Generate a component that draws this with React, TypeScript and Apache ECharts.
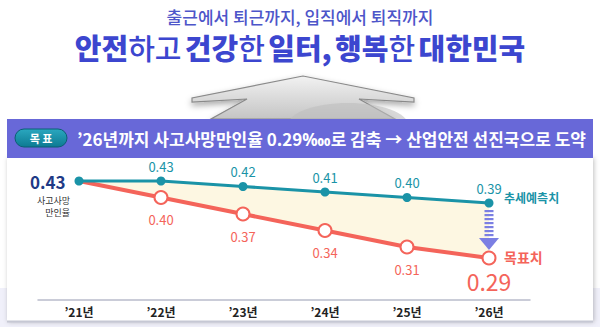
import React, { useEffect, useRef } from "react";
import * as echarts from "echarts";

const years = ["’21년", "’22년", "’23년", "’24년", "’25년", "’26년"];
const trend = [0.43, 0.43, 0.42, 0.41, 0.4, 0.39];
const target = [0.43, 0.4, 0.37, 0.34, 0.31, 0.29];
const trendLabels = ["0.43", "0.43", "0.42", "0.41", "0.40", "0.39"];
const targetLabels = ["0.43", "0.40", "0.37", "0.34", "0.31", "0.29"];

const FONT = "'Noto Sans CJK KR', 'Noto Sans', sans-serif";
const TEAL = "#1a93a7";
const RED = "#f4645a";

export default function App() {
  const ref = useRef<HTMLDivElement>(null);
  useEffect(() => {
    if (!ref.current) return;
    const chart = echarts.init(ref.current, undefined, { renderer: "svg" });
    const diff = trend.map((t, i) => +(t - target[i]).toFixed(4));
    const last = years.length - 1;
    const option: any = {
      animation: false,
      backgroundColor: "#ffffff",
      textStyle: { fontFamily: FONT },
      grid: { left: 38, right: 70, top: 160, bottom: 27 },
      xAxis: {
        type: "category",
        data: years,
        boundaryGap: true,
        axisLine: { lineStyle: { color: "#b9bccb", width: 1.5 } },
        axisTick: { show: false },
        axisLabel: { color: "#222", fontSize: 12, fontWeight: "bold", margin: 5, fontFamily: FONT },
        z: 5,
      },
      yAxis: { type: "value", min: 0.2136, max: 0.4682, show: false, splitLine: { show: false } },
      series: [
        {
          type: "line",
          data: target,
          stack: "fill",
          symbol: "none",
          lineStyle: { opacity: 0 },
          silent: true,
          z: 1,
        },
        {
          type: "line",
          data: diff,
          stack: "fill",
          symbol: "none",
          lineStyle: { opacity: 0 },
          areaStyle: { color: "#fdf7e2", opacity: 1 },
          silent: true,
          z: 1,
        },
        {
          type: "line",
          data: target.map((v, i) =>
            i === 0
              ? { value: v, symbol: "none", label: { show: false } }
              : i === last
              ? { value: v, label: { fontSize: 23, distance: 4 } }
              : v
          ),
          symbol: "emptyCircle",
          symbolSize: 13,
          lineStyle: { color: RED, width: 4 },
          itemStyle: { color: RED, borderColor: RED, borderWidth: 2.5 },
          label: {
            show: true,
            position: "bottom",
            distance: 8,
            color: RED,
            fontSize: 13,
            fontFamily: FONT,
            formatter: (p: any) => targetLabels[p.dataIndex],
          },
          z: 3,
        },
        {
          type: "line",
          data: trend.map((v, i) =>
            i === 0
              ? {
                  value: v,
                  label: {
                    show: true,
                    position: "left",
                    distance: 9,
                    color: "#1f3a86",
                    fontSize: 17,
                    fontWeight: "bold",
                    fontFamily: FONT,
                  },
                }
              : v
          ),
          symbol: "circle",
          symbolSize: 9,
          lineStyle: { color: TEAL, width: 3 },
          itemStyle: { color: TEAL },
          label: {
            show: true,
            position: "top",
            distance: 4,
            color: TEAL,
            fontSize: 13,
            fontFamily: FONT,
            formatter: (p: any) => trendLabels[p.dataIndex],
          },
          z: 4,
        },
      ],
    };
    chart.setOption(option);

    const p0 = chart.convertToPixel({ gridIndex: 0 }, [0, trend[0]]) as number[];
    const pT = chart.convertToPixel({ gridIndex: 0 }, [last, trend[last]]) as number[];
    const pR = chart.convertToPixel({ gridIndex: 0 }, [last, target[last]]) as number[];

    const stripes: any[] = [];
    const sTop = pT[1] + 7;
    const sBot = pR[1] - 20;
    const nStripes = 7;
    const step = (sBot - sTop) / nStripes;
    for (let i = 0; i < nStripes; i++) {
      stripes.push({
        type: "rect",
        z: 20,
        shape: { x: pT[0] - 4.5, y: sTop + i * step, width: 9, height: step * 0.55 },
        style: { fill: "#7b7fe3" },
      });
    }

    const ax = 303;
    const arrowShape = [
      [ax, 76],
      [ax - 111, 98],
      [ax - 111, 102],
      [ax - 56, 99],
      [ax - 92, 119],
      [ax + 92, 119],
      [ax + 56, 99],
      [ax + 111, 102],
      [ax + 111, 98],
    ];

    chart.setOption({
      graphic: [
        { type: "rect", z: -10, shape: { x: 0, y: 288, width: 600, height: 39 }, style: { fill: "#f0f0fa" } },
        {
          type: "polygon",
          z: -9,
          shape: { points: arrowShape },
          style: {
            fill: new echarts.graphic.LinearGradient(0, 0, 0, 1, [
              { offset: 0, color: "#f2f2f2" },
              { offset: 1, color: "#c4c4c4" },
            ]),
            stroke: "#8a8a8a",
            lineWidth: 1.2,
            shadowBlur: 6,
            shadowColor: "rgba(0,0,0,0.35)",
            shadowOffsetY: 3,
          },
        },
        {
          type: "ellipse",
          z: -8,
          shape: { cx: ax + 45, cy: 125, rx: 60, ry: 22 },
          style: { fill: "rgba(190,190,190,0.6)" },
        },
        {
          type: "rect",
          z: -7,
          shape: { x: 7, y: 158, width: 586, height: 164 },
          style: { fill: "#ffffff", shadowBlur: 5, shadowColor: "rgba(0,0,0,0.25)", shadowOffsetX: 1 },
        },
        { type: "rect", z: -6, shape: { x: 7, y: 320.5, width: 586, height: 2 }, style: { fill: "#c6c8d4" } },
        { type: "rect", z: -6, shape: { x: 7, y: 119, width: 586, height: 39 }, style: { fill: "#6868d8" } },
        {
          type: "rect",
          z: -5,
          shape: { x: 15, y: 129, width: 52, height: 18, r: 9 },
          style: {
            fill: new echarts.graphic.LinearGradient(0, 0, 0, 1, [
              { offset: 0, color: "#2aa7bf" },
              { offset: 1, color: "#0d7a92" },
            ]),
            stroke: "#0b5f74",
            lineWidth: 1,
          },
        },
        {
          type: "text",
          z: -4,
          style: {
            text: "목 표",
            x: 41,
            y: 138,
            align: "center",
            verticalAlign: "middle",
            fill: "#ffffff",
            font: `bold 11px ${FONT}`,
          },
        },
        {
          type: "text",
          z: -4,
          style: {
            text: "’26년까지 사고사망만인율 0.29‱로 감축 → 산업안전 선진국으로 도약",
            x: 77,
            y: 138,
            align: "left",
            verticalAlign: "middle",
            fill: "#ffffff",
            font: `bold 17px ${FONT}`,
          },
        },
        {
          type: "text",
          z: 10,
          style: {
            text: "출근에서 퇴근까지, 입직에서 퇴직까지",
            x: 300,
            y: 16,
            align: "center",
            verticalAlign: "middle",
            fill: "#4d55c9",
            font: `500 17px ${FONT}`,
          },
        },
        {
          type: "text",
          z: 10,
          style: {
            text: "{b|안전}{m|하고} {b|건강}{m|한} {b|일터,} {b|행복}{m|한} {b|대한민국}",
            x: 300,
            y: 47,
            align: "center",
            verticalAlign: "middle",
            rich: {
              b: { fill: "#3c46cf", font: `900 29px ${FONT}` },
              m: { fill: "#3c46cf", font: `500 29px ${FONT}` },
            },
          },
        },
        {
          type: "text",
          z: 20,
          style: {
            text: "사고사망\n만인율",
            x: p0[0] - 9,
            y: p0[1] + 13,
            align: "right",
            verticalAlign: "top",
            fill: "#333",
            lineHeight: 12,
            font: `9px ${FONT}`,
          },
        },
        {
          type: "text",
          z: 20,
          style: {
            text: "추세예측치",
            x: pT[0] + 15,
            y: pT[1] - 6,
            align: "left",
            verticalAlign: "middle",
            fill: TEAL,
            font: `bold 12px ${FONT}`,
          },
        },
        {
          type: "text",
          z: 20,
          style: {
            text: "목표치",
            x: pR[0] + 15,
            y: pR[1] - 1,
            align: "left",
            verticalAlign: "middle",
            fill: RED,
            font: `bold 14px ${FONT}`,
          },
        },
        ...stripes,
        {
          type: "polygon",
          z: 20,
          shape: {
            points: [
              [pT[0] - 10, sBot],
              [pT[0] + 10, sBot],
              [pT[0], pR[1] - 8],
            ],
          },
          style: { fill: "#7b7fe3" },
        },
      ],
    });

    return () => chart.dispose();
  }, []);

  return <div ref={ref} style={{ position: "fixed", left: 0, top: 0, width: 600, height: 327 }} />;
}
